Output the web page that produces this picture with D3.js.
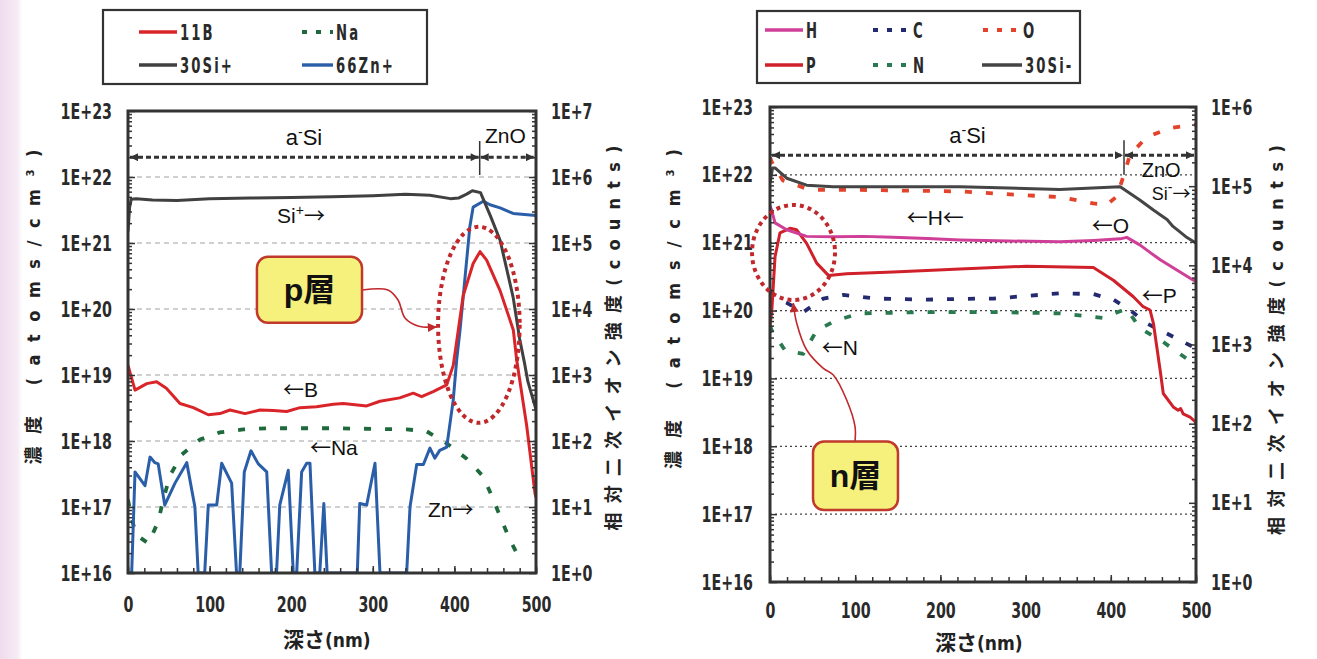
<!DOCTYPE html>
<html lang="ja">
<head>
<meta charset="utf-8">
<title>SIMS depth profiles</title>
<script src="https://cdn.jsdelivr.net/npm/d3@7/dist/d3.min.js"></script>
<style>
  html, body { margin: 0; padding: 0; background: #fff; }
  svg { display: block; }
  .tick-label { font-family: "DejaVu Sans Condensed", "DejaVu Sans", sans-serif; font-stretch: condensed; font-size: 22px; font-weight: bold; fill: #2a2a2a; }
  .legend-label { font-family: "DejaVu Sans Condensed", "DejaVu Sans", sans-serif; font-stretch: condensed; font-size: 21px; font-weight: bold; fill: #2a2a2a; letter-spacing: 3px; }
  .note { font-family: "Liberation Sans", Arial, sans-serif; font-size: 21px; fill: #111; }
  .glyph { font-family: "Noto Sans CJK JP", sans-serif; }
  .cjk { font-family: "Noto Sans CJK JP", sans-serif; }
  .cond { font-family: "DejaVu Sans Condensed", "DejaVu Sans", sans-serif; font-stretch: condensed; }
</style>
</head>
<body>
<svg id="chart" width="1317" height="659"></svg>
<script>
// ---------- shared axes ----------
const depthMajor = [0, 100, 200, 300, 400, 500];
const depthMinor = d3.range(0, 501, 20);
const concTicks = [1e16, 1e17, 1e18, 1e19, 1e20, 1e21, 1e22, 1e23];
const countTicksP = [1, 1e1, 1e2, 1e3, 1e4, 1e5, 1e6, 1e7];
const countTicksN = [1, 1e1, 1e2, 1e3, 1e4, 1e5, 1e6];

// ---------- p-layer / ZnO stack (left) ----------
const bDepth = [0, 8.6, 23, 35, 47, 63.7, 80, 98.4, 112.7, 125, 143.4, 161.8, 178, 194.5, 210.8, 231, 251.6, 263.8, 292.5, 308.8, 333, 349.6, 359.8, 374, 390.6, 398.6, 410.8, 423, 431.4, 439.5, 456, 472.2, 476.3, 488.6, 498.8, 500];
const bConc = [1.4e19, 5.9e18, 7.4e18, 7.9e18, 6.3e18, 3.7e18, 3.2e18, 2.5e18, 2.6e18, 2.95e18, 2.6e18, 2.95e18, 2.9e18, 2.8e18, 3.2e18, 3.3e18, 3.6e18, 3.7e18, 3.4e18, 4.0e18, 4.5e18, 5.3e18, 4.7e18, 5.6e18, 7.1e18, 1.4e19, 1.6e20, 4.9e20, 7.4e20, 5.5e20, 1.9e20, 4.8e19, 1.7e19, 1.7e18, 1.6e17, 1.4e17];

const naDepth = [0, 4, 10, 25, 37, 43, 51.5, 65.8, 88, 112.7, 141.3, 170, 250, 341.5, 366, 390.6, 415, 435.4, 447.6, 457.9, 468, 480.4];
const naConc = [1.3e17, 7e16, 3.8e16, 2.8e16, 6e16, 1.27e17, 3e17, 6.2e17, 1.05e18, 1.35e18, 1.5e18, 1.56e18, 1.56e18, 1.5e18, 1.4e18, 9.2e17, 5.4e17, 2.9e17, 1.3e17, 6.3e16, 3.2e16, 1.6e16];

const siPDepth = [0, 2, 4, 10, 30, 60, 100, 150, 200, 250, 300, 340, 370, 395, 405, 415, 422, 432, 444, 456, 472, 480, 486, 490, 500];
const siPCounts = [1.5e5, 3.5e5, 4.6e5, 4.7e5, 4.5e5, 4.4e5, 4.7e5, 4.8e5, 4.9e5, 5.0e5, 5.2e5, 5.5e5, 5.3e5, 4.7e5, 4.8e5, 5.5e5, 6.2e5, 5.8e5, 2.6e5, 1.1e5, 1.5e4, 3.5e3, 1.5e3, 8e2, 3e2];

const znDepth = [0, 4.5, 8.6, 20.8, 27, 33, 37, 45, 57.6, 72, 82, 86, 94, 98.4, 108.7, 114.8, 127, 133, 137, 142.5, 150.7, 159.7, 170, 176, 182, 186, 196.4, 202.6, 206.7, 212.8, 219, 223, 229, 235, 240, 244, 281, 284, 292.5, 302.7, 308.8, 341.5, 345.6, 353.8, 362, 370, 376, 382, 390.6, 398.6, 402.8, 406.9, 419, 423, 435.4, 443.6, 456, 472, 500];
const znCounts = [1, 1, 34, 21, 57, 47, 45, 10.7, 23, 47, 10, 1, 1, 10.7, 10.7, 46, 23, 1, 1, 34, 71, 45, 34, 1, 1, 10.7, 36, 1, 1, 34, 46, 46, 1, 1, 11.3, 1, 1, 11.3, 10.7, 46, 1, 1, 10, 44, 44, 78, 55, 72, 81, 420, 1700, 4800, 1.8e5, 3.5e5, 4.3e5, 3.8e5, 3.4e5, 2.8e5, 2.6e5];

// ---------- n-layer stack (right) ----------
const hDepth = [0, 2, 5.9, 19.6, 43, 74, 110, 144, 185, 223, 280, 340, 380, 411, 418.7, 434, 446, 458, 477, 497, 500];
const hConc = [3.5e21, 3e21, 1.96e21, 1.55e21, 1.24e21, 1.22e21, 1.24e21, 1.2e21, 1.15e21, 1.1e21, 1.06e21, 1.03e21, 1.08e21, 1.14e21, 1.2e21, 9.3e20, 7.2e20, 5.6e20, 4e20, 2.8e20, 2.7e20];

const pDepth = [0, 2, 5.9, 11.7, 23.5, 31.3, 43, 54.8, 68.5, 90, 144.7, 223, 301, 379.5, 403, 426.5, 438, 446, 450, 458, 461.6, 473.3, 479, 482, 485, 493, 499, 500];
const pConc = [6e19, 9.5e19, 6.2e20, 1.4e21, 1.63e21, 1.55e21, 9.8e20, 5e20, 3.3e20, 3.5e20, 3.7e20, 4.1e20, 4.5e20, 4.3e20, 2.8e20, 1.6e20, 1.14e20, 1.02e20, 6.5e19, 1.3e19, 6e18, 3.8e18, 3.4e18, 3.6e18, 3e18, 2.7e18, 2.3e18, 2.1e18];

const cDepth = [0, 7.8, 19.6, 39, 62.6, 86, 125, 184, 242.6, 262, 340, 379.5, 403, 422.5, 442, 465.6, 497, 500];
const cConc = [2e20, 1.5e20, 1.3e20, 9.5e19, 1.5e20, 1.7e20, 1.5e20, 1.45e20, 1.5e20, 1.5e20, 1.8e20, 1.75e20, 1.45e20, 1.02e20, 6.5e19, 4.6e19, 2.9e19, 2.8e19];

const oDepth = [0, 2, 15, 47, 106, 223, 301, 340, 379.5, 395, 407, 414.7, 422.5, 442, 469.5, 493, 500];
const oConc = [1.8e22, 1.55e22, 8.3e21, 6e21, 6e21, 5.7e21, 5e21, 4.7e21, 3.8e21, 3.6e21, 4.8e21, 9.4e21, 1.96e22, 3.6e22, 4.9e22, 5.4e22, 5.5e22];

const nDepth = [0, 2, 17.6, 39, 54.8, 78, 106, 184, 262, 340, 391, 418.7, 434, 458, 481, 497, 500];
const nConc = [6e19, 5.1e19, 2.6e19, 2.3e19, 5.1e19, 7.2e19, 9.1e19, 9.5e19, 9.5e19, 9.1e19, 7.8e19, 1.07e20, 5.5e19, 3.7e19, 2.3e19, 1.66e19, 1.6e19];

const siNDepth = [0, 3, 5.9, 19.6, 43, 74, 144, 223, 340, 411, 434, 450, 460, 466, 473, 480, 488, 497, 500];
const siNCounts = [1.1e5, 1.7e5, 1.7e5, 1.26e5, 1.03e5, 9.8e4, 9.8e4, 9.8e4, 9.1e4, 9.8e4, 6.7e4, 5e4, 4.2e4, 3.8e4, 3.1e4, 2.7e4, 2.3e4, 2e4, 1.9e4];

// ---------- drawing ----------
const svg = d3.select("#chart");
const defs = svg.append("defs");

const fade = defs.append("linearGradient").attr("id", "edgeFade").attr("x1", 0).attr("x2", 1);
fade.append("stop").attr("offset", 0).attr("stop-color", "#efdcee");
fade.append("stop").attr("offset", 0.8).attr("stop-color", "#f6ecf5");
fade.append("stop").attr("offset", 1).attr("stop-color", "#ffffff");
svg.append("rect").attr("x", 0).attr("y", 0).attr("width", 22).attr("height", 659).attr("fill", "url(#edgeFade)");

function arrowMarker(id, color, w, h) {
  defs.append("marker").attr("id", id).attr("viewBox", "0 0 10 10")
    .attr("refX", 10).attr("refY", 5).attr("markerUnits", "userSpaceOnUse")
    .attr("markerWidth", w).attr("markerHeight", h).attr("orient", "auto-start-reverse")
    .append("path").attr("d", "M0,0L10,5L0,10Z").attr("fill", color);
}
arrowMarker("arrowDark", "#333", 9, 8);
arrowMarker("arrowRed", "#c0282c", 10, 9);

const decadeFmt = d => "1E+" + Math.round(Math.log10(d));
function minorTicks(lo, hi) {
  const out = [];
  for (let k = lo; k < hi; k++) for (let m = 2; m <= 9; m++) out.push(m * Math.pow(10, k));
  return out;
}
const DASH = "7,14";

function makePanel(cfg) {
  const g = svg.append("g");
  const x = d3.scaleLinear().domain([0, 500]).range([cfg.x0, cfg.x1]);
  const yC = d3.scaleLog().domain([1e16, 1e23]).range([cfg.y1, cfg.y0]);
  const yK = d3.scaleLog().domain([1, cfg.countTicks[cfg.countTicks.length - 1]]).range([cfg.y1, cfg.y0]);
  const clipId = "clip-" + cfg.id;
  defs.append("clipPath").attr("id", clipId).append("rect")
    .attr("x", cfg.x0).attr("y", cfg.y0).attr("width", cfg.x1 - cfg.x0).attr("height", cfg.y1 - cfg.y0);

  // decade grid
  g.append("g").selectAll("line").data(concTicks.slice(1, -1)).join("line")
    .attr("x1", cfg.x0).attr("x2", cfg.x1)
    .attr("y1", d => yC(d)).attr("y2", d => yC(d))
    .attr("stroke", cfg.gridColor).attr("stroke-width", cfg.gridWidth)
    .attr("stroke-dasharray", cfg.gridDash);

  // profiles
  const lines = g.append("g").attr("clip-path", `url(#${clipId})`);
  cfg.series.forEach(s => {
    const yS = s.axis === "count" ? yK : yC;
    const pts = s.depth.map((d, i) => [d, s.value[i]]);
    lines.append("path").datum(pts)
      .attr("d", d3.line().x(p => x(p[0])).y(p => yS(p[1])))
      .attr("fill", "none").attr("stroke", s.color)
      .attr("stroke-width", s.dash ? 3.8 : 3)
      .attr("stroke-dasharray", s.dash || null)
      .attr("stroke-linejoin", "round");
  });

  // frame
  g.append("rect").attr("x", cfg.x0).attr("y", cfg.y0)
    .attr("width", cfg.x1 - cfg.x0).attr("height", cfg.y1 - cfg.y0)
    .attr("fill", "none").attr("stroke", "#333").attr("stroke-width", 3);

  const tickLines = a => { a.select(".domain").remove(); a.selectAll("line").attr("stroke", "#333").attr("stroke-width", 1.5); };

  // left (concentration) axis
  g.append("g").attr("transform", `translate(${cfg.x0},0)`)
    .call(d3.axisLeft(yC).tickValues(minorTicks(16, 23)).tickFormat(() => "").tickSize(-4))
    .call(tickLines);
  g.append("g").attr("transform", `translate(${cfg.x0},0)`)
    .call(d3.axisLeft(yC).tickValues(concTicks).tickFormat(decadeFmt).tickSize(-7))
    .call(tickLines)
    .call(a => a.selectAll("text").attr("class", "tick-label").attr("x", null)
      .attr("text-anchor", "end")
      .attr("transform", `translate(${-cfg.padLeft},0) scale(0.72,1)`));

  // right (counts) axis
  const nDec = cfg.countTicks.length - 1;
  g.append("g").attr("transform", `translate(${cfg.x1},0)`)
    .call(d3.axisRight(yK).tickValues(minorTicks(0, nDec)).tickFormat(() => "").tickSize(-4))
    .call(tickLines);
  g.append("g").attr("transform", `translate(${cfg.x1},0)`)
    .call(d3.axisRight(yK).tickValues(cfg.countTicks).tickFormat(decadeFmt).tickSize(-7))
    .call(tickLines)
    .call(a => a.selectAll("text").attr("class", "tick-label").attr("x", null)
      .attr("text-anchor", "start")
      .attr("transform", `translate(${cfg.padRight},0) scale(0.72,1)`));

  // depth axis
  g.append("g").attr("transform", `translate(0,${cfg.y1})`)
    .call(d3.axisBottom(x).tickValues(depthMinor).tickFormat(() => "").tickSize(-5))
    .call(tickLines);
  g.append("g").attr("transform", `translate(0,${cfg.y1})`)
    .call(d3.axisBottom(x).tickValues(depthMajor).tickFormat(d3.format("d")).tickSize(-7))
    .call(tickLines)
    .call(a => a.selectAll("text").attr("class", "tick-label").attr("y", null).attr("dy", null)
      .attr("text-anchor", "middle")
      .attr("transform", `translate(0,${cfg.padBottom}) scale(0.72,1)`));

  return { g, x, yC, yK };
}

function legend(box, items) {
  const lg = svg.append("g");
  lg.append("rect").attr("x", box.x).attr("y", box.y).attr("width", box.w).attr("height", box.h)
    .attr("fill", "#fff").attr("stroke", "#333").attr("stroke-width", 2.2);
  items.forEach(it => {
    lg.append("line").attr("x1", it.x).attr("x2", it.x + it.len).attr("y1", it.y).attr("y2", it.y)
      .attr("stroke", it.color).attr("stroke-width", it.dash ? 3.8 : 3.4)
      .attr("stroke-dasharray", it.dash ? "5,9" : null);
    lg.append("text").attr("class", "legend-label")
      .attr("transform", `translate(${it.x + it.len + 3},${it.y + 8}) scale(0.7,1)`)
      .text(it.name);
  });
}

// text with optional superscript and arrow glyph parts
function note(g, px, py, parts, opts = {}) {
  const t = g.append("text").attr("class", "note").attr("x", px).attr("y", py)
    .attr("text-anchor", opts.anchor || "start");
  if (opts.size) t.style("font-size", opts.size + "px");
  parts.forEach(p => {
    const s = t.append("tspan").text(p.t);
    if (p.sup) s.attr("dy", -8).style("font-size", "14px");
    if (p.after) s.attr("dy", 8);
    if (p.glyph) s.attr("class", "glyph");
  });
  return t;
}

function layerBox(g, x0, y0, x1, y1, label) {
  g.append("rect").attr("x", x0).attr("y", y0).attr("width", x1 - x0).attr("height", y1 - y0)
    .attr("rx", 11).attr("fill", "#f6f07c").attr("stroke", "#c0392b").attr("stroke-width", 2.5);
  g.append("text").attr("x", (x0 + x1) / 2).attr("y", (y0 + y1) / 2 + 11)
    .attr("text-anchor", "middle").style("font-family", "\"Liberation Sans\", \"Noto Sans CJK JP\", sans-serif")
    .style("font-size", "32px").style("font-weight", "bold").attr("fill", "#111").text(label);
}

function layerSpan(g, x, yC, interfaceDepth, logLine, logTop, logBot) {
  const yl = yC(Math.pow(10, logLine));
  const xi = x(interfaceDepth);
  const seg = (a, b) => g.append("line").attr("x1", a).attr("x2", b).attr("y1", yl).attr("y2", yl)
    .attr("stroke", "#333").attr("stroke-width", 3).attr("stroke-dasharray", "5,3")
    .attr("marker-start", "url(#arrowDark)").attr("marker-end", "url(#arrowDark)");
  seg(x(0) + 2, xi - 1);
  seg(xi + 1, x(500) - 2);
  g.append("line").attr("x1", xi).attr("x2", xi)
    .attr("y1", yC(Math.pow(10, logTop))).attr("y2", yC(Math.pow(10, logBot)))
    .attr("stroke", "#333").attr("stroke-width", 1.5);
}

function callout(g, x, yC, pts, curve) {
  g.append("path").datum(pts)
    .attr("d", d3.line().x(p => x(p[0])).y(p => yC(Math.pow(10, p[1]))).curve(curve))
    .attr("fill", "none").attr("stroke", "#c0282c").attr("stroke-width", 1.6)
    .attr("marker-end", "url(#arrowRed)");
}

function dottedEllipse(g, x, yC, depth, logc, halfDepth, halfDec) {
  const cx = x(depth), cy = yC(Math.pow(10, logc));
  g.append("ellipse").attr("cx", cx).attr("cy", cy)
    .attr("rx", x(depth + halfDepth) - cx).attr("ry", yC(Math.pow(10, logc - halfDec)) - cy)
    .attr("fill", "none").attr("stroke", "#c0282c").attr("stroke-width", 4).attr("stroke-dasharray", "4,4");
}

function axisTitles(cx, cyLeft, lenLeft, rx, cyRight, lenRight, xTitleX, xTitleY) {
  const t1 = svg.append("text").attr("transform", `translate(${cx},${cyLeft}) rotate(-90)`)
    .attr("text-anchor", "middle").attr("textLength", lenLeft).attr("lengthAdjust", "spacing").attr("fill", "#222");
  t1.append("tspan").attr("class", "cjk").style("font-size", "18px").style("font-weight", "bold").text("濃度");
  t1.append("tspan").attr("class", "cond").style("font-size", "18px").style("font-weight", "bold").text(" (atoms/cm³)");

  const t2 = svg.append("text").attr("transform", `translate(${rx},${cyRight}) rotate(-90)`)
    .attr("text-anchor", "middle").attr("textLength", lenRight).attr("lengthAdjust", "spacing").attr("fill", "#222");
  t2.append("tspan").attr("class", "cjk").style("font-size", "18px").style("font-weight", "bold").text("相対二次イオン強度");
  t2.append("tspan").attr("class", "cond").style("font-size", "18px").style("font-weight", "bold").text("(counts)");

  const t3 = svg.append("text").attr("x", xTitleX).attr("y", xTitleY).attr("fill", "#222");
  t3.append("tspan").attr("class", "cjk").style("font-size", "21px").style("font-weight", "bold").text("深さ");
  t3.append("tspan").attr("class", "cond").style("font-size", "19px").style("font-weight", "bold").text("(nm)");
}

// ===== left panel =====
const colB = "#d9252a", colNa = "#1f6a3c", colSiP = "#404040", colZn = "#2b5ea8";
const L = makePanel({
  id: "p", x0: 128, x1: 536, y0: 111, y1: 573, countTicks: countTicksP,
  gridColor: "#a0a0a0", gridWidth: 1, gridDash: "5,4",
  padLeft: 16, padRight: 15, padBottom: 39,
  series: [
    { depth: naDepth, value: naConc, color: colNa, dash: DASH },
    { depth: znDepth, value: znCounts, color: colZn, axis: "count" },
    { depth: siPDepth, value: siPCounts, color: colSiP, axis: "count" },
    { depth: bDepth, value: bConc, color: colB }
  ]
});
legend({ x: 103, y: 10, w: 324, h: 74 }, [
  { name: "11B", color: colB, x: 139, y: 32, len: 38 },
  { name: "Na", color: colNa, x: 302, y: 32, len: 31, dash: true },
  { name: "30Si+", color: colSiP, x: 139, y: 65, len: 38 },
  { name: "66Zn+", color: colZn, x: 302, y: 65, len: 31 }
]);
{
  const { g, x, yC } = L;
  const P = (d, lc) => [x(d), yC(Math.pow(10, lc))];
  layerSpan(g, x, yC, 431, 22.30, 22.545, 22.03);
  note(g, ...P(215.7, 22.485), [{ t: "a" }, { t: "-", sup: true }, { t: "Si", after: true }], { anchor: "middle", size: 22 });
  note(g, ...P(437.5, 22.515), [{ t: "ZnO" }], { size: 21 });
  note(g, ...P(182.6, 21.30), [{ t: "Si" }, { t: "+", sup: true }, { t: "→", glyph: true, after: true }]);
  note(g, ...P(190, 18.67), [{ t: "←", glyph: true }, { t: "B" }]);
  note(g, ...P(223, 17.79), [{ t: "←", glyph: true }, { t: "Na" }]);
  note(g, ...P(367.6, 16.85), [{ t: "Zn" }, { t: "→", glyph: true }]);
  dottedEllipse(g, x, yC, 430, 19.76, 50, 1.485);
  callout(g, x, yC, [[286.8, 20.288], [318.6, 20.288], [330.9, 20.136], [339.5, 19.864], [355.4, 19.742], [378.5, 19.727]], d3.curveCatmullRom);
  const [bx0, by0] = P(158, 20.79), [bx1, by1] = P(286.8, 19.79);
  layerBox(g, bx0, by0, bx1, by1, "p層");
}
axisTitles(40, 307, 315, 620, 338, 385, 283, 647);

// ===== right panel =====
const colH = "#cf3f97", colP = "#d0202a", colC = "#242a70", colO = "#e4432b", colN = "#2a7a50", colSiN = "#454545";
const R = makePanel({
  id: "n", x0: 770, x1: 1196, y0: 107, y1: 582, countTicks: countTicksN,
  gridColor: "#444", gridWidth: 1.3, gridDash: "2,3",
  padLeft: 17, padRight: 15, padBottom: 36,
  series: [
    { depth: nDepth, value: nConc, color: colN, dash: DASH },
    { depth: cDepth, value: cConc, color: colC, dash: DASH },
    { depth: oDepth, value: oConc, color: colO, dash: DASH },
    { depth: pDepth, value: pConc, color: colP },
    { depth: hDepth, value: hConc, color: colH },
    { depth: siNDepth, value: siNCounts, color: colSiN, axis: "count" }
  ]
});
legend({ x: 757, y: 11, w: 323, h: 72 }, [
  { name: "H", color: colH, x: 765, y: 30, len: 38 },
  { name: "C", color: colC, x: 873, y: 30, len: 37, dash: true },
  { name: "O", color: colO, x: 983, y: 30, len: 37, dash: true },
  { name: "P", color: colP, x: 765, y: 65, len: 38 },
  { name: "N", color: colN, x: 873, y: 65, len: 37, dash: true },
  { name: "30Si-", color: colSiN, x: 982, y: 65, len: 40 }
]);
{
  const { g, x, yC } = R;
  const P = (d, lc) => [x(d), yC(Math.pow(10, lc))];
  layerSpan(g, x, yC, 415.5, 22.29, 22.51, 22.0);
  note(g, ...P(231.8, 22.465), [{ t: "a" }, { t: "-", sup: true }, { t: "Si", after: true }], { anchor: "middle", size: 22 });
  note(g, ...P(436.3, 21.97), [{ t: "ZnO" }], { size: 20 });
  note(g, ...P(448, 21.63), [{ t: "Si" }, { t: "-", sup: true }, { t: "→", glyph: true, after: true }], { size: 18 });
  note(g, ...P(160.4, 21.26), [{ t: "←", glyph: true }, { t: "H" }, { t: "←", glyph: true }]);
  note(g, ...P(377.6, 21.15), [{ t: "←", glyph: true }, { t: "O" }]);
  note(g, ...P(436.3, 20.11), [{ t: "←", glyph: true }, { t: "P" }]);
  note(g, ...P(60.7, 19.345), [{ t: "←", glyph: true }, { t: "N" }]);
  dottedEllipse(g, x, yC, 27.6, 20.856, 48.7, 0.7);
  callout(g, x, yC, [[99.8, 18.078], [99.8, 18.289], [90, 18.682], [74.3, 19.05], [62.6, 19.149], [43.1, 19.419], [31.3, 19.817], [27.3, 20.112]], d3.curveCatmullRom);
  const [bx0, by0] = P(50.5, 18.07), [bx1, by1] = P(150.2, 17.06);
  layerBox(g, bx0, by0, bx1, by1, "n層");
}
axisTitles(680, 309, 320, 1283, 340, 390, 935, 650);
</script>
</body>
</html>
